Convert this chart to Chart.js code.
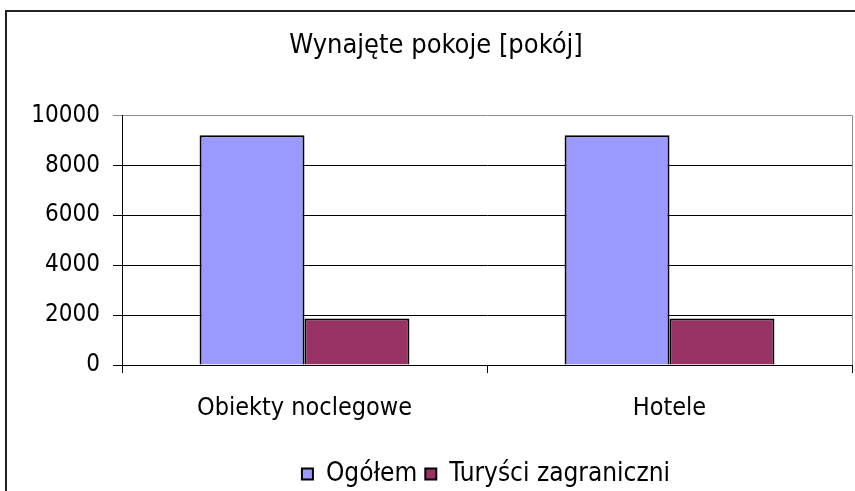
<!DOCTYPE html>
<html>
<head>
<meta charset="utf-8">
<script src="https://cdn.jsdelivr.net/npm/chart.js@4"></script>
<style>
  html, body { margin: 0; padding: 0; background: #fff; }
  #wrap { width: 855px; height: 491px; }
</style>
</head>
<body>
<div id="wrap"><canvas id="chart" width="855" height="491"></canvas></div>
<script>
// data
const categories = ['Obiekty noclegowe', 'Hotele'];
const ogolem = [9200, 9200];
const turysciZagraniczni = [1860, 1860];
const yTicks = [0, 2000, 4000, 6000, 8000, 10000];

const FONT = '"DejaVu Sans Condensed", "DejaVu Sans", sans-serif';

// nudge title and legend boxes a little to the right / down
const nudgePlugin = {
  id: 'nudge',
  afterLayout(chart) {
    const t = chart.titleBlock;
    if (t) { t.left += 10; t.right += 10; }
    const l = chart.legend;
    if (l) { l.left += 60; l.right += 60; l.top += 6; l.bottom += 6; }
  }
};

// outer frame plus grey right edge of the plot area
const framePlugin = {
  id: 'frame',
  afterDraw(chart) {
    const c = chart.ctx;
    const a = chart.chartArea;
    c.save();
    c.strokeStyle = '#8c8c8c';
    c.lineWidth = 1;
    c.beginPath();
    c.moveTo(a.right + 0.5, a.top);
    c.lineTo(a.right + 0.5, a.bottom);
    c.stroke();
    c.strokeStyle = '#222';
    c.lineWidth = 2;
    c.beginPath();
    c.moveTo(6, 491);
    c.lineTo(6, 11);
    c.lineTo(855, 11);
    c.stroke();
    c.restore();
  }
};

new Chart(document.getElementById('chart'), {
  type: 'bar',
  data: {
    labels: categories,
    datasets: [
      {
        label: 'Ogółem',
        data: ogolem,
        backgroundColor: '#9999ff',
        borderColor: '#000',
        borderWidth: 2
      },
      {
        label: 'Turyści zagraniczni',
        data: turysciZagraniczni,
        backgroundColor: '#993366',
        borderColor: '#000',
        borderWidth: 2
      }
    ]
  },
  options: {
    responsive: false,
    animation: false,
    devicePixelRatio: 1,
    layout: { padding: { left: 0, right: 3, top: 0, bottom: 0 } },
    datasets: {
      bar: { categoryPercentage: 0.575, barPercentage: 1 }
    },
    plugins: {
      title: {
        display: true,
        text: 'Wynajęte pokoje [pokój]',
        color: '#000',
        font: { family: FONT, size: 27, weight: 'normal' },
        padding: { top: 30, bottom: 53 }
      },
      legend: {
        position: 'bottom',
        labels: {
          color: '#000',
          font: { family: FONT, size: 26 },
          boxWidth: 11,
          boxHeight: 11,
          padding: 8
        }
      },
      tooltip: { enabled: false }
    },
    scales: {
      x: {
        grid: {
          drawOnChartArea: false,
          drawTicks: true,
          tickLength: 8,
          color: '#000'
        },
        border: { color: '#000', width: 1 },
        ticks: {
          color: '#000',
          font: { family: FONT, size: 25 },
          padding: 20
        },
        afterFit(scale) { scale.height = 82; }
      },
      y: {
        min: 0,
        max: 10000,
        afterBuildTicks(scale) {
          scale.ticks = yTicks.map(v => ({ value: v }));
        },
        grid: {
          color: ctx => (ctx.tick && ctx.tick.value === 10000 ? '#8c8c8c' : '#000'),
          tickLength: 9
        },
        border: { color: '#000', width: 1 },
        ticks: {
          color: '#000',
          font: { family: FONT, size: 24 },
          padding: 13,
          callback: v => String(v)
        },
        afterFit(scale) { scale.width = 122; }
      }
    }
  },
  plugins: [nudgePlugin, framePlugin]
});
</script>
</body>
</html>
